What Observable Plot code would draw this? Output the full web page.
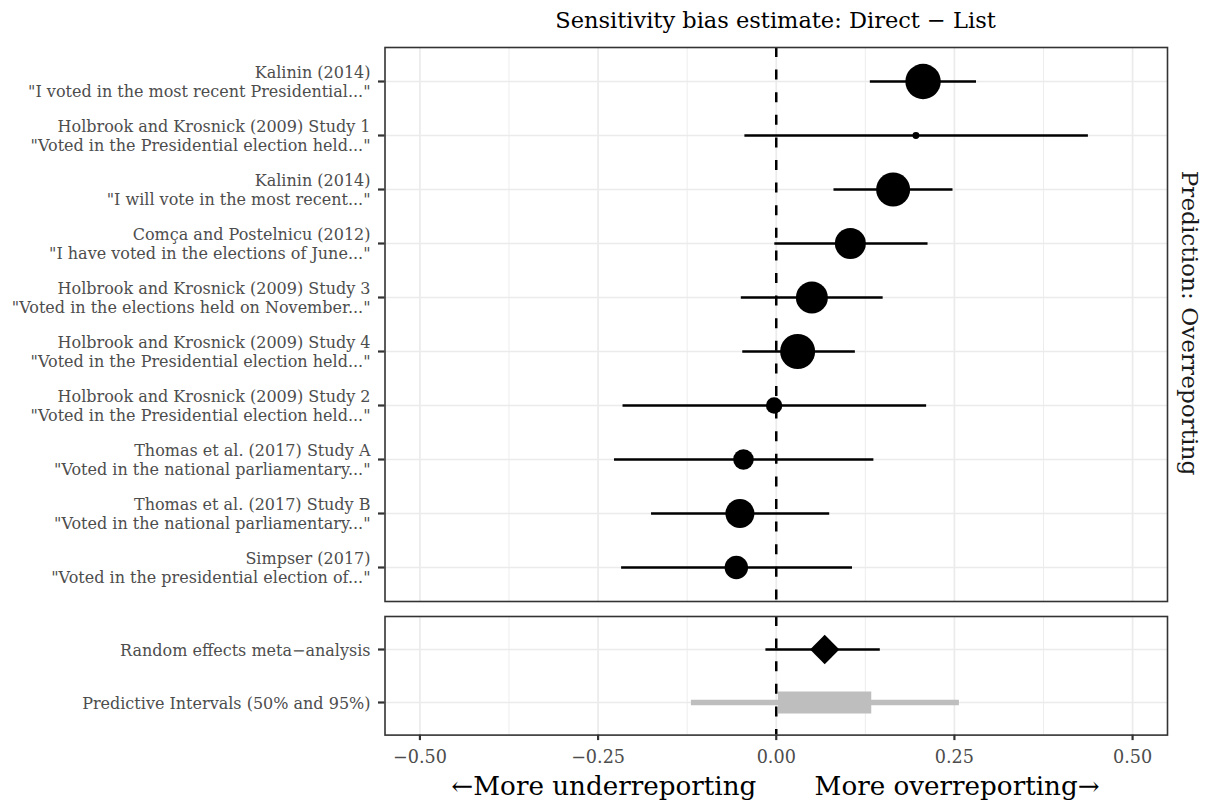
<!DOCTYPE html>
<html>
<head>
<meta charset="utf-8">
<script src="https://cdn.jsdelivr.net/npm/d3@7"></script>
<script src="https://cdn.jsdelivr.net/npm/@observablehq/plot@0.6"></script>
<style>
  html, body { margin: 0; padding: 0; background: #fff; }
  #root { position: relative; width: 1211px; height: 811px; font-family: "DejaVu Serif", serif; overflow: hidden; }
  #root svg { overflow: visible; }
  .abs { position: absolute; }
  #title { left: 384px; width: 783px; top: 7px; text-align: center; font-size: 22.5px; color: #000; white-space: nowrap; }
  #strip { left: 1190px; top: 323px; font-size: 23.2px; color: #1a1a1a; white-space: nowrap;
           transform: translate(-50%, -50%) rotate(90deg); }
  #xtitle { left: 384px; width: 783px; top: 771px; text-align: center; font-size: 26.2px; color: #000; white-space: pre; }
</style>
</head>
<body>
<div id="root">
  <div id="p1" class="abs" style="left:0;top:0"></div>
  <div id="p2" class="abs" style="left:0;top:601px"></div>
  <div id="title" class="abs"></div>
  <div id="strip" class="abs"></div>
  <div id="xtitle" class="abs"></div>
</div>
<script>
// ---- data ----
const studyLabels = [
  'Kalinin (2014)\n"I voted in the most recent Presidential..."',
  'Holbrook and Krosnick (2009) Study 1\n"Voted in the Presidential election held..."',
  'Kalinin (2014)\n"I will vote in the most recent..."',
  'Comça and Postelnicu (2012)\n"I have voted in the elections of June..."',
  'Holbrook and Krosnick (2009) Study 3\n"Voted in the elections held on November..."',
  'Holbrook and Krosnick (2009) Study 4\n"Voted in the Presidential election held..."',
  'Holbrook and Krosnick (2009) Study 2\n"Voted in the Presidential election held..."',
  'Thomas et al. (2017) Study A\n"Voted in the national parliamentary..."',
  'Thomas et al. (2017) Study B\n"Voted in the national parliamentary..."',
  'Simpser (2017)\n"Voted in the presidential election of..."'
];
const estimates = [0.206, 0.196, 0.164, 0.104, 0.050, 0.030, -0.003, -0.046, -0.051, -0.056];
const lowerCI   = [0.132, -0.044, 0.081, -0.002, -0.049, -0.047, -0.215, -0.227, -0.175, -0.217];
const upperCI   = [0.281, 0.438, 0.248, 0.213, 0.150, 0.111, 0.211, 0.137, 0.075, 0.107];
const weights   = [313, 12, 289, 240, 256, 306, 67, 106, 210, 137];

const summaryLabels = ["Random effects meta\u2212analysis", "Predictive Intervals (50% and 95%)"];
const metaEstimate = [0.068];
const metaLower = [-0.0145];
const metaUpper = [0.146];
const pi95 = [-0.119, 0.257];
const pi50 = [0.003, 0.134];

const majorTicks = [-0.5, -0.25, 0, 0.25, 0.5];
const minorTicks = [-0.375, -0.125, 0.125, 0.375];
const titleText = "Sensitivity bias estimate: Direct \u2212 List";
const stripText = "Prediction: Overreporting";
const xTitleLeft = "\u2190More underreporting";
const xTitleRight = "More overreporting\u2192";

// ---- tables ----
const studies = studyLabels.map((label, i) => ({
  label, est: estimates[i], lo: lowerCI[i], hi: upperCI[i], w: weights[i]
}));
const meta = [{label: summaryLabels[0], est: metaEstimate[0], lo: metaLower[0], hi: metaUpper[0]}];
const pred95 = [{label: summaryLabels[1], lo: pi95[0], hi: pi95[1]}];
const pred50 = [{label: summaryLabels[1], lo: pi50[0], hi: pi50[1]}];

const xDomain = [-0.549, 0.549];
const common = {
  width: 1211, marginLeft: 384.5, marginRight: 44,
  style: {fontFamily: "DejaVu Serif", background: "transparent", overflow: "visible"}
};
const gridMarks = (domain) => [
  Plot.gridX(minorTicks, {stroke: "#ebebeb", strokeOpacity: 1, strokeWidth: 0.9}),
  Plot.gridX(majorTicks, {stroke: "#ebebeb", strokeOpacity: 1, strokeWidth: 1.7}),
  Plot.gridY(domain, {stroke: "#ebebeb", strokeOpacity: 1, strokeWidth: 1.7}),
  Plot.ruleX([0], {stroke: "#000", strokeWidth: 2.5, strokeDasharray: "10,12.6"})
];
const yAxis = (domain) => Plot.axisY(domain, {
  tickSize: 6.5, tickPadding: 8, fontSize: 16, fill: "#4d4d4d", stroke: "#333333",
  strokeWidth: 2.2, lineHeight: 1.2, label: null
});

const p1 = Plot.plot({
  ...common,
  height: 602, marginTop: 47, marginBottom: 1,
  x: {domain: xDomain, axis: null},
  y: {type: "point", domain: studyLabels, padding: 0.6, axis: null},
  r: {type: "sqrt", domain: [0, d3.max(weights)], range: [0, 17.7]},
  marks: [
    ...gridMarks(studyLabels),
    yAxis(studyLabels),
    Plot.ruleY(studies, {y: "label", x1: "lo", x2: "hi", stroke: "#000", strokeWidth: 2.7}),
    Plot.dot(studies, {x: "est", y: "label", r: "w", fill: "#000", stroke: null}),
    Plot.frame({stroke: "#333333", strokeWidth: 1.6})
  ]
});
document.getElementById("p1").append(p1);

const p2 = Plot.plot({
  ...common,
  height: 210, marginTop: 15, marginBottom: 76.4,
  x: {domain: xDomain, axis: null},
  y: {type: "point", domain: summaryLabels, padding: 0.6, axis: null},
  marks: [
    ...gridMarks(summaryLabels),
    Plot.axisX(majorTicks, {tickSize: 5.5, tickPadding: 10, fontSize: 17.6, fill: "#4d4d4d",
      stroke: "#333333", strokeWidth: 2.2, tickFormat: d3.format(".2f"), label: null}),
    yAxis(summaryLabels),
    Plot.ruleY(pred95, {y: "label", x1: "lo", x2: "hi", stroke: "#bebebe", strokeWidth: 5.5}),
    Plot.ruleY(pred50, {y: "label", x1: "lo", x2: "hi", stroke: "#bebebe", strokeWidth: 22}),
    Plot.ruleY(meta, {y: "label", x1: "lo", x2: "hi", stroke: "#000", strokeWidth: 2.7}),
    Plot.dot(meta, {x: "est", y: "label", r: 13.2, symbol: "diamond2", fill: "#000", stroke: null}),
    Plot.frame({stroke: "#333333", strokeWidth: 1.6})
  ]
});
document.getElementById("p2").append(p2);

document.getElementById("title").textContent = titleText;
document.getElementById("strip").textContent = stripText;
document.getElementById("xtitle").textContent = xTitleLeft + "       " + xTitleRight;
</script>
</body>
</html>
